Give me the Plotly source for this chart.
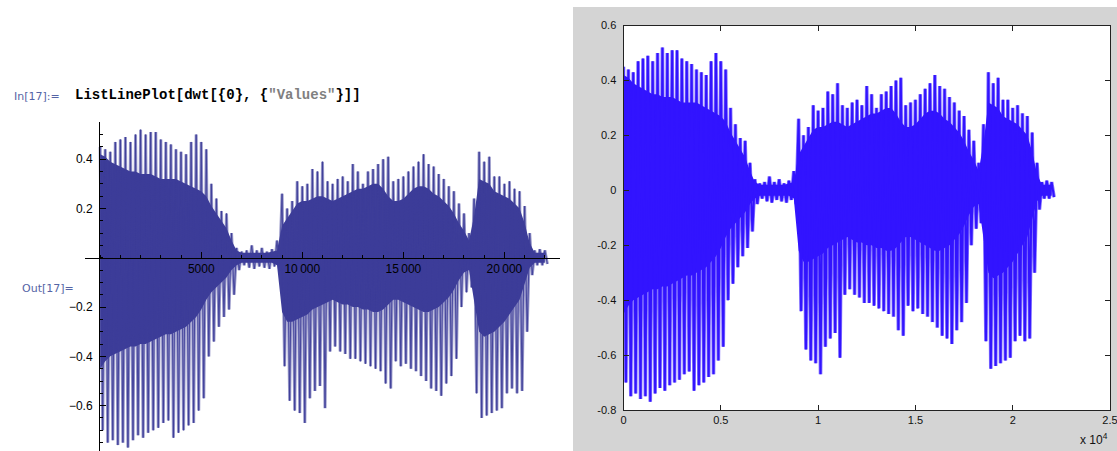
import plotly.graph_objects as go

# ---------------- data ----------------
# sample index of each envelope reading (every 250 samples)
SAMPLES = list(range(0, 22001, 250))

# outer (peak) upper envelope
PEAK_HI = [0.45, 0.44, 0.43, 0.47, 0.48, 0.49, 0.47, 0.50, 0.52, 0.50,
           0.51, 0.51, 0.48, 0.47, 0.46, 0.44, 0.43, 0.42, 0.47, 0.50,
           0.47, 0.44, 0.30, 0.24, 0.19, 0.18, 0.10, 0.04, 0.025, 0.03,
           0.05, 0.03, 0.04, 0.025, 0.035, 0.07, 0.26, 0.20, 0.23, 0.31,
           0.29, 0.30, 0.36, 0.35, 0.39, 0.31, 0.30, 0.32, 0.33, 0.31,
           0.38, 0.35, 0.30, 0.35, 0.36, 0.38, 0.40, 0.41, 0.31, 0.32,
           0.33, 0.35, 0.37, 0.39, 0.42, 0.38, 0.37, 0.34, 0.32, 0.29,
           0.27, 0.22, 0.18, 0.10, 0.24, 0.43, 0.39, 0.41, 0.33, 0.33,
           0.30, 0.31, 0.28, 0.27, 0.21, 0.10, 0.03, 0.035, 0.03]

# outer (peak) lower envelope
PEAK_LO = [-0.70, -0.75, -0.74, -0.76, -0.75, -0.77, -0.74, -0.72, -0.73, -0.71,
           -0.70, -0.69, -0.67, -0.66, -0.73, -0.71, -0.70, -0.68, -0.67, -0.62,
           -0.57, -0.40, -0.34, -0.28, -0.24, -0.21, -0.15, -0.05, -0.03, -0.04,
           -0.045, -0.035, -0.04, -0.045, -0.035, -0.05, -0.44, -0.58, -0.62, -0.63,
           -0.67, -0.57, -0.54, -0.52, -0.61, -0.38, -0.36, -0.38, -0.39, -0.41,
           -0.41, -0.42, -0.43, -0.44, -0.45, -0.46, -0.51, -0.53, -0.42, -0.44,
           -0.43, -0.45, -0.46, -0.48, -0.50, -0.53, -0.54, -0.56, -0.51, -0.48,
           -0.41, -0.20, -0.14, -0.12, -0.55, -0.65, -0.64, -0.63, -0.62, -0.61,
           -0.55, -0.53, -0.55, -0.54, -0.30, -0.07, -0.03, -0.03, -0.025]

# dense core (inner) upper envelope
CORE_HI = [0.42, 0.41, 0.39, 0.38, 0.37, 0.36, 0.35, 0.35, 0.34, 0.34,
           0.34, 0.33, 0.32, 0.32, 0.32, 0.32, 0.31, 0.30, 0.29, 0.28,
           0.27, 0.25, 0.21, 0.18, 0.15, 0.12, 0.07, 0.03, 0.02, 0.02,
           0.02, 0.02, 0.02, 0.02, 0.025, 0.03, 0.13, 0.16, 0.19, 0.22,
           0.23, 0.23, 0.24, 0.25, 0.25, 0.24, 0.23, 0.24, 0.25, 0.26,
           0.27, 0.28, 0.28, 0.29, 0.30, 0.30, 0.28, 0.25, 0.23, 0.23,
           0.24, 0.26, 0.28, 0.29, 0.29, 0.28, 0.26, 0.25, 0.23, 0.21,
           0.18, 0.14, 0.11, 0.07, 0.17, 0.32, 0.31, 0.30, 0.27, 0.26,
           0.25, 0.24, 0.22, 0.20, 0.14, 0.06, 0.02, 0.02, 0.02]

# dense core (inner) lower envelope
CORE_LO = [-0.45, -0.42, -0.40, -0.39, -0.38, -0.37, -0.36, -0.36, -0.35, -0.35,
           -0.34, -0.33, -0.32, -0.31, -0.31, -0.30, -0.29, -0.28, -0.26, -0.24,
           -0.21, -0.17, -0.14, -0.12, -0.10, -0.08, -0.05, -0.03, -0.02, -0.02,
           -0.02, -0.02, -0.02, -0.02, -0.02, -0.03, -0.22, -0.26, -0.26, -0.25,
           -0.24, -0.23, -0.21, -0.20, -0.19, -0.18, -0.17, -0.18, -0.19, -0.19,
           -0.20, -0.20, -0.21, -0.21, -0.22, -0.22, -0.21, -0.19, -0.17, -0.17,
           -0.18, -0.19, -0.20, -0.21, -0.22, -0.22, -0.21, -0.20, -0.18, -0.16,
           -0.13, -0.09, -0.06, -0.05, -0.18, -0.30, -0.32, -0.31, -0.30, -0.28,
           -0.26, -0.23, -0.20, -0.17, -0.11, -0.04, -0.02, -0.02, -0.02]

# tick labels
MMA_XTICKS = [5000, 10000, 15000, 20000]
MMA_XTEXT = ["5000", "10\u2009000", "15\u2009000", "20\u2009000"]
MMA_YTICKS = [-0.6, -0.4, -0.2, 0.2, 0.4]
MMA_YTEXT = ["\u22120.6", "\u22120.4", "\u22120.2", "0.2", "0.4"]
ML_XTICKS = [0, 5000, 10000, 15000, 20000, 25000]
ML_XTEXT = ["0", "0.5", "1", "1.5", "2", "2.5"]
ML_YTICKS = [-0.8, -0.6, -0.4, -0.2, 0, 0.2, 0.4, 0.6]
ML_YTEXT = ["-0.8", "-0.6", "-0.4", "-0.2", "0", "0.2", "0.4", "0.6"]

# ---------------- build waveform paths ----------------
HALF = (SAMPLES[1] - SAMPLES[0]) / 2
wave_x, wave_y = [], []
for s, hi, lo in zip(SAMPLES, PEAK_HI, PEAK_LO):
    wave_x += [s, s + HALF]
    wave_y += [hi, lo]
core_x = SAMPLES + SAMPLES[::-1]
core_y = CORE_HI + CORE_LO[::-1]

W, H = 1117, 451
MMA_COL = "rgb(61,61,153)"
ML_COL = "rgb(50,20,255)"

fig = go.Figure()
# Mathematica panel
fig.add_trace(go.Scatter(x=core_x, y=core_y, fill="toself", fillcolor=MMA_COL,
                         mode="lines", line=dict(width=0, color=MMA_COL),
                         xaxis="x", yaxis="y", hoverinfo="skip", showlegend=False))
fig.add_trace(go.Scatter(x=wave_x, y=wave_y, mode="lines",
                         line=dict(width=3.0, color="rgba(61,61,153,0.55)"),
                         xaxis="x", yaxis="y", hoverinfo="skip", showlegend=False))
fig.add_trace(go.Scatter(x=wave_x, y=wave_y, mode="lines",
                         line=dict(width=0.9, color=MMA_COL),
                         xaxis="x", yaxis="y", showlegend=False))
# MATLAB panel
fig.add_trace(go.Scatter(x=core_x, y=core_y, fill="toself", fillcolor=ML_COL,
                         mode="lines", line=dict(width=0, color=ML_COL),
                         xaxis="x2", yaxis="y2", hoverinfo="skip", showlegend=False))
fig.add_trace(go.Scatter(x=wave_x, y=wave_y, mode="lines",
                         line=dict(width=3.6, color="rgba(50,20,255,0.6)"),
                         xaxis="x2", yaxis="y2", hoverinfo="skip", showlegend=False))
fig.add_trace(go.Scatter(x=wave_x, y=wave_y, mode="lines",
                         line=dict(width=2.0, color=ML_COL),
                         xaxis="x2", yaxis="y2", showlegend=False))

# geometry helpers (pixel -> paper)
def px(x):
    return x / W

def py(y):
    return (H - y) / H

tick_font = dict(family="Liberation Sans, Arial, sans-serif", size=12, color="black")
ml_font = dict(family="Liberation Sans, Arial, sans-serif", size=11, color="#111")
cell_font = dict(family="DejaVu Sans, Liberation Sans, sans-serif", size=11,
                 color="rgb(85,100,165)")

fig.update_layout(
    width=W, height=H,
    margin=dict(l=0, r=0, t=0, b=0, autoexpand=False),
    paper_bgcolor="white", plot_bgcolor="white",
    showlegend=False,
    xaxis=dict(domain=[px(85), px(560)], range=[-750, 22750],
               anchor="free", position=py(257.7), automargin=False,
               showgrid=False, zeroline=False, showline=True,
               linecolor="black", linewidth=1,
               ticks="inside", ticklen=6, tickcolor="black",
               tickvals=MMA_XTICKS, ticktext=MMA_XTEXT, tickfont=tick_font,
               minor=dict(ticks="inside", ticklen=3, tick0=0, dtick=1000,
                          tickcolor="black", showgrid=False)),
    yaxis=dict(domain=[0, py(122)], range=[-0.784, 0.551],
               anchor="free", position=px(99), automargin=False,
               showgrid=False, zeroline=False, showline=True,
               linecolor="black", linewidth=1,
               ticks="inside", ticklen=6, tickcolor="black",
               tickvals=MMA_YTICKS, ticktext=MMA_YTEXT, tickfont=tick_font,
               ticklabelstandoff=4,
               minor=dict(ticks="inside", ticklen=3, tick0=0, dtick=0.05,
                          tickcolor="black", showgrid=False)),
    xaxis2=dict(domain=[px(623.5), px(1110)], range=[0, 25000],
                anchor="y2", automargin=False, ticklabeloverflow="allow",
                showgrid=False, zeroline=False, showline=True,
                mirror="ticks", linecolor="#222", linewidth=1,
                ticks="inside", ticklen=5, tickcolor="#222",
                tickvals=ML_XTICKS, ticktext=ML_XTEXT, tickfont=ml_font),
    yaxis2=dict(domain=[py(410), py(25.5)], range=[-0.8, 0.6],
                anchor="x2", automargin=False, ticklabeloverflow="allow",
                showgrid=False, zeroline=False, showline=True,
                mirror="ticks", linecolor="#222", linewidth=1,
                ticks="inside", ticklen=5, tickcolor="#222",
                tickvals=ML_YTICKS, ticktext=ML_YTEXT, tickfont=ml_font,
                ticklabelstandoff=4),
    shapes=[dict(type="rect", xref="paper", yref="paper",
                 x0=px(573), x1=1, y0=0, y1=py(7),
                 fillcolor="rgb(212,212,212)", line=dict(width=0), layer="below"),
            dict(type="rect", xref="paper", yref="paper",
                 x0=px(623.5), x1=px(1110), y0=py(410), y1=py(25.5),
                 fillcolor="white", line=dict(width=0), layer="below")],
    annotations=[
        dict(text="In[17]:=", xref="paper", yref="paper", x=px(12), y=py(96),
             xanchor="left", yanchor="middle", showarrow=False, font=cell_font),
        dict(text='<b>ListLinePlot[dwt[{0}, {<span style="color:#808080">"Values"</span>}]]</b>',
             xref="paper", yref="paper", x=px(73), y=py(95),
             xanchor="left", yanchor="middle", showarrow=False,
             font=dict(family="Liberation Mono, Courier New, monospace", size=14,
                       color="black")),
        dict(text="Out[17]=", xref="paper", yref="paper", x=px(20), y=py(288),
             xanchor="left", yanchor="middle", showarrow=False, font=cell_font),
        dict(text="x 10<sup>4</sup>", xref="paper", yref="paper", x=px(1110), y=py(439),
             xanchor="right", yanchor="middle", showarrow=False,
             font=dict(family="Liberation Sans, Arial, sans-serif", size=12, color="#111")),
    ],
)

fig.write_html("out.html", config={"displayModeBar": False},
               post_script="document.body.style.margin='0';")
